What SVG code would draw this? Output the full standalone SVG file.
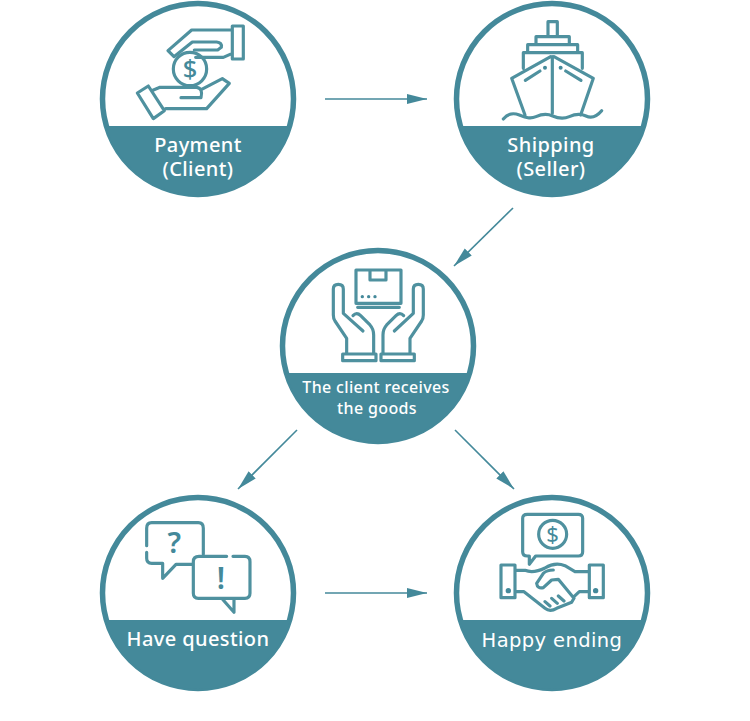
<svg xmlns="http://www.w3.org/2000/svg" width="750" height="721" viewBox="0 0 750 721">
<style>
.ring{fill:#fff;stroke:#44899a;stroke-width:5.5}
.band{fill:#44899a}
.ic{fill:none;stroke:#4f919f;stroke-width:9.5;stroke-linejoin:round;stroke-linecap:round}
.dot{fill:#44899a}
.g{fill:#44899a;font-family:"Noto Sans","Liberation Sans",sans-serif;font-weight:500;text-anchor:middle}
.lb{fill:#fff;font-family:"Noto Sans","Liberation Sans",sans-serif;font-weight:500;text-anchor:middle;font-size:20px;letter-spacing:.4px}
.cn{stroke:#44899a;stroke-width:1.6;fill:none;marker-end:url(#ah)}
</style>
<defs>
<marker id="ah" markerUnits="userSpaceOnUse" markerWidth="22" markerHeight="12" refX="20" refY="5" orient="auto"><path d="M0,0L20,5L0,10Z" fill="#44899a"/></marker>
<clipPath id="c1"><circle cx="198" cy="99" r="96"/></clipPath>
<clipPath id="c2"><circle cx="552" cy="99" r="96"/></clipPath>
<clipPath id="c3"><circle cx="378" cy="346" r="96"/></clipPath>
<clipPath id="c4"><circle cx="198" cy="593" r="96"/></clipPath>
<clipPath id="c5"><circle cx="552" cy="593" r="96"/></clipPath>
</defs>
<g id="connectors">
<path class="cn" d="M325,99H427"/>
<path class="cn" d="M513,208L454,266"/>
<path class="cn" d="M297,430L238,489"/>
<path class="cn" d="M455,430L514,489"/>
<path class="cn" d="M325,593H427"/>
</g>
<g id="node-payment">
<circle class="ring" cx="198" cy="99" r="95.5"/>
<rect class="band" x="98" y="126" width="200" height="75" clip-path="url(#c1)"/>
<g transform="translate(95,0) scale(.3333)">
<path class="ic" d="M412,78H445V177H412ZM412,90H290L219,152L237,170L292,126H365Q382,128 379,142L368,150H298M302,172H385L412,160"/>
<circle class="ic" cx="285" cy="207" r="50"/>
<text class="g" x="285" y="234" font-size="76">$</text>
<path class="ic" d="M127,279L160,258L208,332L175,356ZM170,272L195,262H305Q325,265 318,293H258M320,268L382,236L403,250L335,326H212"/>
</g>
<text class="lb" x="198" y="152">Payment</text>
<text class="lb" x="198" y="176">(Client)</text>
</g>
<g id="node-shipping">
<circle class="ring" cx="552" cy="99" r="95.5"/>
<rect class="band" x="452" y="126" width="200" height="75" clip-path="url(#c2)"/>
<g transform="translate(450,0) scale(.3333)">
<path class="ic" d="M294,108V65H322V108M258,133V110H358V133M233,157V134H383V157M220,205V158H397V205M302,170L185,235L225,345M312,170L430,235L392,345M307,170V340M226,241L270,213M347,213L393,241"/>
<circle class="dot" cx="285" cy="203" r="6"/><circle class="dot" cx="332" cy="203" r="6"/>
<path class="ic" d="M160,357C172,342 190,338 208,345S240,358 258,350S290,340 308,348S340,358 358,350S390,340 408,348S440,350 455,332"/>
</g>
<text class="lb" x="551" y="152">Shipping</text>
<text class="lb" x="551" y="176">(Seller)</text>
</g>
<g id="node-receives">
<circle class="ring" cx="378" cy="346" r="95.5"/>
<rect class="band" x="278" y="373" width="200" height="75" clip-path="url(#c3)"/>
<g transform="translate(275,245) scale(.3333)">
<path class="ic" d="M243,75H378V175H243ZM285,77V105H333V77M248,187H373"/>
<circle class="dot" cx="262" cy="155" r="5"/><circle class="dot" cx="281" cy="155" r="5"/><circle class="dot" cx="300" cy="155" r="5"/>
<path class="ic" d="M203,327H303V347H203ZM215,325V280L180,228Q175,220 175,210V132Q175,118 190,118Q205,118 205,132V205L264,258M234,212Q245,200 257,212L285,240Q296,252 296,270V325"/>
<path class="ic" d="M318,327H418V347H318ZM405,325V280L440,228Q445,220 445,210V132Q445,118 430,118Q415,118 415,132V205L358,258M386,212Q375,200 363,212L335,240Q324,252 324,270V325"/>
</g>
<text class="lb" style="font-size:16px;letter-spacing:.35px" x="376" y="393">The client receives</text>
<text class="lb" style="font-size:16px;letter-spacing:.35px" x="377" y="414">the goods</text>
</g>
<g id="node-question">
<circle class="ring" cx="198" cy="593" r="95.5"/>
<rect class="band" x="98" y="620" width="200" height="75" clip-path="url(#c4)"/>
<g transform="translate(95,495) scale(.3333)">
<path class="ic" d="M155,152V100Q155,83 170,83H310Q325,83 325,100V178M155,172V190Q155,205 170,205H203V250L243,208H293"/>
<path class="ic" d="M295,200Q295,184 312,184H395M414,184H450Q465,184 465,200V295Q465,310 450,310H380L417,352V310M380,310H310Q295,310 295,295V200"/>
<text class="g" style="font-weight:600" x="238" y="175" font-size="88">?</text>
<text class="g" style="font-weight:600" x="378" y="283" font-size="90">!</text>
</g>
<text class="lb" x="198" y="646">Have question</text>
</g>
<g id="node-happy">
<circle class="ring" cx="552" cy="593" r="95.5"/>
<rect class="band" x="452" y="620" width="200" height="75" clip-path="url(#c5)"/>
<g transform="translate(450,495) scale(.3333)">
<path class="ic" d="M232,58H385Q398,58 398,70V170Q398,183 385,183H257L238,208V183H232Q218,183 218,170V70Q218,58 232,58Z"/>
<circle class="ic" cx="308" cy="118" r="42"/>
<text class="g" style="font-weight:400" x="308" y="142" font-size="66">$</text>
<path class="ic" d="M153,210H195V308H153ZM418,210H460V308H418ZM195,226H225Q250,236 285,219Q315,200 345,212L375,230H418M195,290H222L285,340Q300,352 320,340L365,322L372,310L325,253L305,255L280,278Q262,282 260,265L280,235Q290,225 310,225M418,290H388L372,305M285,320L300,333M305,310L322,325M325,303L342,318"/>
<circle class="dot" cx="175" cy="287" r="8"/><circle class="dot" cx="437" cy="287" r="8"/>
</g>
<text class="lb" style="font-family:'DejaVu Sans','Liberation Sans',sans-serif;font-weight:400;font-size:19.5px;letter-spacing:.4px" x="552" y="647">Happy ending</text>
</g>
</svg>
